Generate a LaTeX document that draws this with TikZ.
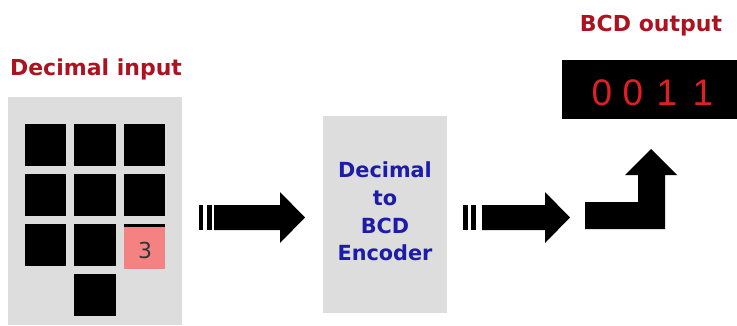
\documentclass[tikz,border=0pt]{standalone}
\usepackage{fontspec}
\setmainfont{DejaVu Sans}
\newfontfamily\digitfont{Liberation Sans}
\definecolor{panelgray}{RGB}{221,221,221}
\definecolor{titlered}{RGB}{172,18,32}
\definecolor{textblue}{RGB}{28,28,168}
\definecolor{keypink}{RGB}{244,130,130}
\definecolor{ledred}{RGB}{225,30,35}
\tikzset{
  title/.style={font=\fontsize{22}{24}\selectfont\bfseries, text=titlered, anchor=base, inner sep=0pt},
  enctext/.style={font=\fontsize{20.8}{28}\selectfont\bfseries, text=textblue, anchor=base, inner sep=0pt},
  panel/.style={fill=panelgray, draw=none},
  key/.style={fill=black, draw=none},
  blockarrow/.style={fill=black, draw=none},
}
\begin{document}
\begin{tikzpicture}[x=1pt,y=-1pt]
\useasboundingbox (0,0) rectangle (737,325);
% titles
\node[title] (tin) at (96,75) {Decimal input};
\node[title] (tout) at (651,31) {BCD output};
% input panel
\fill[panel] (8,97) rectangle (182,325);
\foreach \r/\y in {1/124,2/174,3/224}{
  \fill[key] (25,\y) rectangle (66,\y+42);
  \fill[key] (74,\y) rectangle (116,\y+42);
}
\fill[key] (124,124) rectangle (165,166);
\fill[key] (124,174) rectangle (165,216);
\fill[key] (124,224) rectangle (165,266);
\fill[key] (74,274) rectangle (116,316);
\fill[keypink] (124,227) rectangle (165,269);
\node[font=\fontsize{22}{24}\selectfont, text=black!80, anchor=base, inner sep=0pt] (three) at (145,258) {3};
% arrow 1
\fill[blockarrow] (199,205) rectangle (203,230);
\fill[blockarrow] (207,205) rectangle (212,230);
\fill[blockarrow] (214,205) -- (280,205) -- (280,192) -- (305,217.5) -- (280,243) -- (280,230) -- (214,230) -- cycle;
% encoder
\fill[panel] (323,116) rectangle (447,313);
\node[enctext] (l1) at (385,177) {Decimal};
\node[enctext] (l2) at (385,205) {to};
\node[enctext] (l3) at (385,233) {BCD};
\node[enctext] (l4) at (385,260) {Encoder};
% arrow 2
\fill[blockarrow] (463,205) rectangle (468,230);
\fill[blockarrow] (471,205) rectangle (476,230);
\fill[blockarrow] (482,205) -- (545,205) -- (545,192) -- (570,217.5) -- (545,243) -- (545,230) -- (482,230) -- cycle;
% bent arrow
\fill[blockarrow] (585,202) -- (638,202) -- (638,175) -- (625,175) -- (651,149) -- (677,175) -- (665,175) -- (665,229) -- (585,229) -- cycle;
% output display
\fill[black] (562,60) rectangle (737,119);
\foreach \x/\d [count=\i] in {602/0,633/0,667/1,703/1}{
  \node[font=\digitfont\fontsize{37}{40}\selectfont, text=ledred, anchor=base, inner sep=0pt] (d\i) at (\x,105) {\d};
}
\end{tikzpicture}
\end{document}
